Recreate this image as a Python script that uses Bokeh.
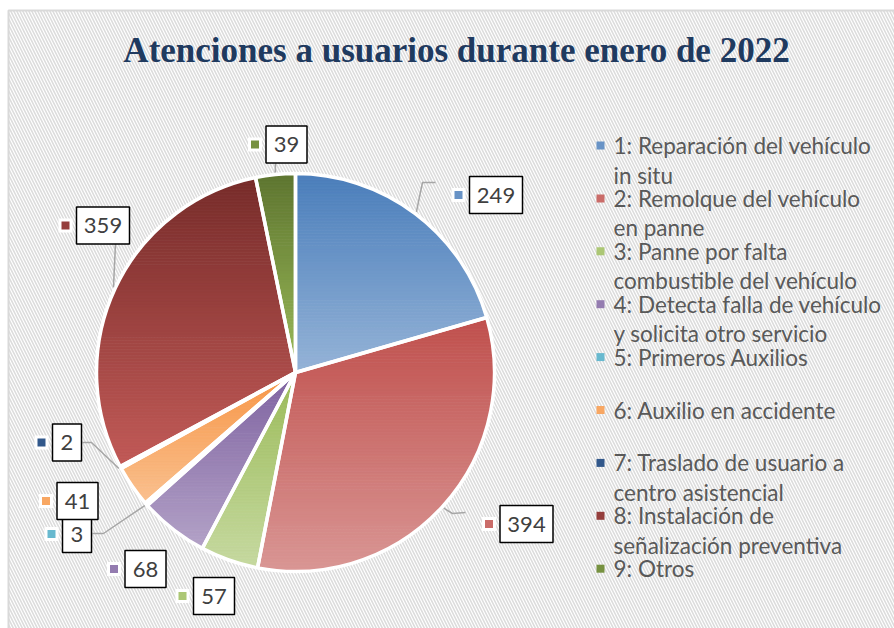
import math
import numpy as np
from bokeh.plotting import figure
from bokeh.models import Range1d
from bokeh.embed import file_html
from bokeh.resources import INLINE
from bokeh.core.properties import value

# ---------------- data ----------------
title_text = "Atenciones a usuarios durante enero de 2022"
values = [249, 394, 57, 68, 3, 41, 2, 359, 39]
legend_line1 = ["1:  Reparación del vehículo", "2:  Remolque del vehículo",
                "3:  Panne por falta", "4:  Detecta falla de vehículo",
                "5:  Primeros Auxilios", "6:  Auxilio en accidente",
                "7:  Traslado de usuario a", "8:  Instalación de", "9:  Otros"]
legend_line2 = ["in situ", "en panne", "combustible del vehículo",
                "y solicita otro servicio", "", "", "centro asistencial",
                "señalización preventiva", ""]

# ---------------- styles / layout ----------------
top_colors = ["#4A7EBB", "#C0504D", "#9BBB59", "#7F63A1", "#4BACC6",
              "#F79646", "#1F497D", "#772C2A", "#5E7530"]
bot_colors = ["#95B3D7", "#D99694", "#C6D9A0", "#B3A2C7", "#93CDDD",
              "#FAC08F", "#4F6F9F", "#C25A57", "#9BBB59"]
# label box centres relative to pie centre (screen px, y down)
label_off = [(200.5, -177.5), (231, 151.5), (-81.5, 223.5), (-150, 196.5),
             (-218.5, 161.5), (-218, 128.5), (-228.5, 70), (-192.5, -147),
             (-9, -228)]
leader_pts = [[(127, -190), (140, -190)], [(157, 141), (170, 140)], None, None,
              [(-192, 161), (-203, 161)], None, [(-204, 70), (-213, 70)],
              [(-180, -129)], [(-20, -209)]]

W, H = 894, 628


def px(x):
    return x


def py(y):
    return H - y


cx, cy, R = px(295), py(372), 199

p = figure(width=W, height=H, output_backend="svg", toolbar_location=None,
           x_range=Range1d(0, W), y_range=Range1d(0, H),
           x_axis_location=None, y_axis_location=None, min_border=0)
p.outline_line_color = None
p.grid.visible = False
p.background_fill_color = "white"
p.border_fill_color = "white"

# background with hatch and border
p.quad(left=[px(8)], right=[W + 6], bottom=[-6], top=[py(10)], fill_color="white",
       hatch_pattern="left_diagonal_line", hatch_color="#DCDCDC",
       hatch_scale=6, hatch_weight=1.6, line_color="#D9D9D9", line_width=2)


def hex2rgb(h):
    h = h.lstrip("#")
    return np.array([int(h[i:i + 2], 16) for i in (0, 2, 4)], dtype=float)


def mix(c1, c2, t):
    c = hex2rgb(c1) * (1 - t) + hex2rgb(c2) * t
    return "#%02x%02x%02x" % tuple(int(round(v)) for v in c)


def clip(poly, y0, keep_above):
    out = []
    n = len(poly)
    for i in range(n):
        a = poly[i]
        b = poly[(i + 1) % n]
        ina = a[1] >= y0 if keep_above else a[1] <= y0
        inb = b[1] >= y0 if keep_above else b[1] <= y0
        if ina:
            out.append(a)
        if ina != inb:
            t = (y0 - a[1]) / (b[1] - a[1])
            out.append((a[0] + t * (b[0] - a[0]), y0))
    return out


total = float(sum(values))
cum = np.concatenate([[0], np.cumsum(values)]) / total
starts = [math.pi / 2 - 2 * math.pi * c for c in cum[:-1]]
ends = [math.pi / 2 - 2 * math.pi * c for c in cum[1:]]
mids = [(s + e) / 2 for s, e in zip(starts, ends)]

bx, by, bc = [], [], []
for i in range(len(values)):
    a0, a1 = starts[i], ends[i]
    n = max(6, int(abs(a1 - a0) * 180 / math.pi * 2))
    angs = np.linspace(a0, a1, n)
    poly = [(cx, cy)] + [(cx + R * math.cos(a), cy + R * math.sin(a)) for a in angs]
    ys = [q[1] for q in poly]
    ymin, ymax = min(ys), max(ys)
    nb = max(4, int((ymax - ymin) / 3))
    edges = np.linspace(ymin, ymax, nb + 1)
    for k in range(nb):
        y0, y1 = edges[k], edges[k + 1]
        sub = clip(clip(poly, y0, True), y1, False)
        if len(sub) < 3:
            continue
        t = (ymax - (y0 + y1) / 2) / (ymax - ymin)
        bx.append([q[0] for q in sub])
        by.append([q[1] for q in sub])
        bc.append(mix(top_colors[i], bot_colors[i], t))

p.patches(bx, by, fill_color=bc, line_color=bc, line_width=0.8)
p.wedge(x=[cx] * len(values), y=[cy] * len(values), radius=R,
        start_angle=starts, end_angle=ends, direction="clock",
        fill_alpha=0, line_color="white", line_width=3.5)

# leader lines
for i, pts in enumerate(leader_pts):
    if pts is None:
        continue
    xs = [cx + (R + 2) * math.cos(mids[i])]
    ys = [cy + (R + 2) * math.sin(mids[i])]
    for dx, dy in pts:
        xs.append(cx + dx)
        ys.append(cy - dy)
    p.line(xs, ys, line_color="#A6A6A6", line_width=1.5)

# data labels
lab_x = [cx + d[0] for d in label_off]
lab_y = [cy - d[1] for d in label_off]
lab_txt = [str(v) for v in values]
lab_w = [17 + 12 * len(t) for t in lab_txt]
key_x = [x - w / 2 - 11 for x, w in zip(lab_x, lab_w)]
key_col = [mix(a, b, 0.4) for a, b in zip(top_colors, bot_colors)]
p.rect(key_x, lab_y, width=14, height=14, fill_color="white", line_color=None)
p.rect(key_x, lab_y, width=8, height=8, fill_color=key_col, line_color=None)
p.rect(lab_x, lab_y, width=lab_w, height=37, fill_color="white",
       line_color="black", line_width=1.5)
p.text(lab_x, lab_y, text=lab_txt, text_align="center", text_baseline="middle",
       text_font=value("Lato"), text_font_size="22px", text_color="#404040")

# legend
leg_y1 = [py(145 + 52.9 * i) for i in range(len(values))]
leg_y2 = [y - 29.5 for y in leg_y1]
p.rect([px(600)] * len(values), leg_y1, width=8, height=8, fill_color=key_col,
       line_color=None)
p.text([px(613)] * len(values), leg_y1, text=legend_line1, text_align="left",
       text_baseline="middle", text_font=value("Lato"), text_font_size="22.5px",
       text_color="#595959")
p.text([px(613)] * len(values), leg_y2, text=legend_line2, text_align="left",
       text_baseline="middle", text_font=value("Lato"), text_font_size="22.5px",
       text_color="#595959")

# title
p.text([px(456)], [py(50)], text=[title_text], text_align="center",
       text_baseline="middle", text_font=value("Liberation Serif"),
       text_font_style="bold", text_font_size="35px", text_color="#1F3A5F")

open("out.html", "w").write(file_html(p, INLINE))
